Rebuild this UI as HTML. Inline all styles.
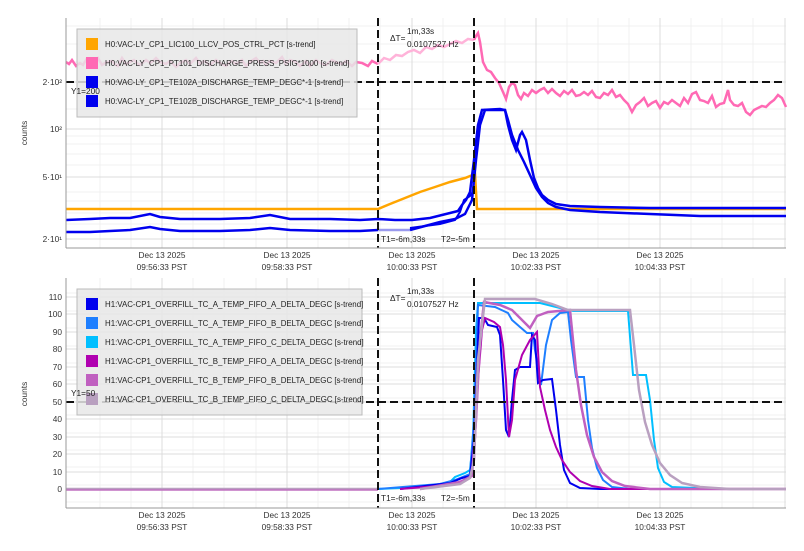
<!DOCTYPE html>
<html><head><meta charset="utf-8"><style>
html,body{margin:0;padding:0;background:#fff;}
svg{display:block;font-family:"Liberation Sans","DejaVu Sans",sans-serif;}
</style></head><body>
<svg width="804" height="551" viewBox="0 0 804 551" xmlns="http://www.w3.org/2000/svg">
<rect width="804" height="551" fill="#fff"/>
<!-- TOP PLOT -->
<g>
<g stroke="#f0f0f0" stroke-width="1">
<line x1="100" y1="18" x2="100" y2="248"/><line x1="131" y1="18" x2="131" y2="248"/><line x1="193" y1="18" x2="193" y2="248"/><line x1="224" y1="18" x2="224" y2="248"/><line x1="256" y1="18" x2="256" y2="248"/><line x1="318" y1="18" x2="318" y2="248"/><line x1="349" y1="18" x2="349" y2="248"/><line x1="380" y1="18" x2="380" y2="248"/><line x1="443" y1="18" x2="443" y2="248"/><line x1="505" y1="18" x2="505" y2="248"/><line x1="567" y1="18" x2="567" y2="248"/><line x1="598" y1="18" x2="598" y2="248"/><line x1="629" y1="18" x2="629" y2="248"/><line x1="691" y1="18" x2="691" y2="248"/><line x1="722" y1="18" x2="722" y2="248"/><line x1="753" y1="18" x2="753" y2="248"/>
<line x1="66" y1="224" x2="786" y2="224"/><line x1="66" y1="213" x2="786" y2="213"/><line x1="66" y1="201" x2="786" y2="201"/><line x1="66" y1="192" x2="786" y2="192"/><line x1="66" y1="165" x2="786" y2="165"/><line x1="66" y1="154" x2="786" y2="154"/><line x1="66" y1="144" x2="786" y2="144"/><line x1="66" y1="136" x2="786" y2="136"/><line x1="66" y1="109" x2="786" y2="109"/><line x1="66" y1="62" x2="786" y2="62"/><line x1="66" y1="44" x2="786" y2="44"/><line x1="66" y1="26" x2="786" y2="26"/>
</g>
<g stroke="#dcdcdc" stroke-width="1">
<line x1="162" y1="18" x2="162" y2="248"/><line x1="287" y1="18" x2="287" y2="248"/><line x1="412" y1="18" x2="412" y2="248"/><line x1="536" y1="18" x2="536" y2="248"/><line x1="660" y1="18" x2="660" y2="248"/><line x1="785" y1="18" x2="785" y2="248"/>
<line x1="66" y1="82" x2="786" y2="82"/><line x1="66" y1="129" x2="786" y2="129"/><line x1="66" y1="177" x2="786" y2="177"/><line x1="66" y1="239" x2="786" y2="239"/>
</g>
<polyline fill="none" stroke="#ff69b4" stroke-width="2.5" points="66,62 69,64 72,60 76,66 80,63 83,65 86,60 90,67 94,62 98,58 102,65 105,63 108,62 112,61 115,64 118,66 122,58 126,64 130,62 134,60 137,63 140,65 146,60 150,63 153,61 156,58 160,62 166,64 170,61 173,64 176,67 180,63 186,60 190,64 196,58 200,64 204,61 207,63 210,65 216,60 220,63 226,66 229,63 232,61 236,64 242,60 246,66 250,62 256,58 260,63 263,61 266,65 270,61 276,63 282,57 286,64 290,60 296,62 300,66 306,61 310,66 316,60 320,63 326,65 332,60 336,62 342,64 346,61 352,66 356,62 362,63 368,66 372,61 378,64"/>
<polyline fill="none" stroke="#ffb3d9" stroke-width="2.5" points="378,64 384,58 390,60 396,55 402,56 408,52 414,50 420,53 426,47 432,49 438,45 444,47 450,44 456,41 462,43 468,39 474,40"/>
<polyline fill="none" stroke="#ff69b4" stroke-width="2.5" points="474,40 476,36 478,33 480,42 483,62 487,70 491,72 495,78 499,83 503,92 506,99 509,87 512,83 515,85 518,95 521,99 524,93 528,96 532,90 536,93 540,90 544,88 548,93 552,89 556,93 560,96 564,91 568,94 572,90 576,96 580,95 584,92 588,95 592,91 596,97 600,98 604,93 608,95 612,90 616,97 620,95 624,100 628,104 632,112 636,105 640,102 644,98 648,106 652,103 656,101 660,108 664,102 668,104 672,100 676,103 680,106 684,98 688,103 692,94 696,92 700,100 704,101 708,103 712,96 716,107 720,104 724,103 728,90 730,100 734,105 738,106 742,103 746,112 750,115 754,110 758,108 762,106 766,107 770,103 774,100 778,95 782,98 786,107"/>
<polyline fill="none" stroke="#ffa500" stroke-width="2.5" points="66,209 378,209 390,204 405,198 420,192 435,187 450,182 465,178 475,174 477,209 786,209"/>
<polyline fill="none" stroke="#0000ee" stroke-width="2.5" points="66,220 90,219 110,218 130,218 150,214 160,217 180,219 220,219 250,218 270,215 290,219 330,219 360,220 378,219 395,220 412,220 430,218 450,213 458,211 462,205 466,200 470,192 474,160 478,125 482,110 500,109 505,110 508,125 512,140 516,150 520,135 522,132 526,140 530,160 534,178 538,188 542,195 548,200 556,204 570,206 600,207 650,208 700,208 786,208"/>
<polyline fill="none" stroke="#0000ee" stroke-width="2.5" points="66,232 90,232 110,231 130,230 150,227 160,229 180,231 220,231 250,230 270,228 290,230 330,231 360,231 378,230"/>
<polyline fill="none" stroke="#9999ee" stroke-width="2.5" points="378,230 410,230"/>
<polyline fill="none" stroke="#0000ee" stroke-width="2.5" points="410,230 425,226 440,222 455,219 465,214 472,200 476,160 480,125 485,110 505,110 508,120 512,135 518,150 524,162 530,175 536,188 542,197 548,203 556,207 570,210 600,212 650,214 700,216 786,216"/>
<polyline fill="none" stroke="#0000ee" stroke-width="2" points="410,228 440,224 455,220 460,212 464,200 470,196 474,190"/>
<g stroke="#111" stroke-width="2" stroke-dasharray="8,4">
<line x1="378" y1="18" x2="378" y2="248"/><line x1="474" y1="18" x2="474" y2="248"/><line x1="66" y1="82" x2="786" y2="82"/>
</g>
<rect x="77" y="29" width="280" height="88" fill="#e8e8e8" fill-opacity="0.85" stroke="#bbb"/>
<rect x="86" y="38" width="12" height="12" fill="#ffa500"/>
<rect x="86" y="57" width="12" height="12" fill="#ff69b4"/>
<rect x="86" y="76" width="12" height="12" fill="#0000ee"/>
<rect x="86" y="95" width="12" height="12" fill="#0000ee"/>
<g font-size="7.9" fill="#222">
<text x="105" y="47">H0:VAC-LY_CP1_LIC100_LLCV_POS_CTRL_PCT [s-trend]</text>
<text x="105" y="66">H0:VAC-LY_CP1_PT101_DISCHARGE_PRESS_PSIG*1000 [s-trend]</text>
<text x="105" y="85">H0:VAC-LY_CP1_TE102A_DISCHARGE_TEMP_DEGC*-1 [s-trend]</text>
<text x="105" y="104">H0:VAC-LY_CP1_TE102B_DISCHARGE_TEMP_DEGC*-1 [s-trend]</text>
</g>
<g font-size="8.3" fill="#222">
<text x="71" y="94">Y1=200</text>
<text x="390" y="41">ΔT=</text>
<text x="407" y="34">1m,33s</text>
<text x="407" y="47">0.0107527 Hz</text>
<text x="381" y="242">T1=-6m,33s</text>
<text x="441" y="242">T2=-5m</text>
</g>
<line x1="66" y1="18" x2="66" y2="248" stroke="#999"/>
<line x1="66" y1="248" x2="786" y2="248" stroke="#999"/>
<g font-size="8.3" fill="#333" text-anchor="end">
<text x="62" y="85">2·10²</text><text x="62" y="132">10²</text><text x="62" y="180">5·10¹</text><text x="62" y="242">2·10¹</text>
</g>
<text transform="translate(27,133) rotate(-90)" font-size="8.3" fill="#333" text-anchor="middle">counts</text>
<g font-size="8.3" fill="#333" text-anchor="middle">
<text x="162" y="258">Dec 13 2025</text><text x="162" y="270">09:56:33 PST</text>
<text x="287" y="258">Dec 13 2025</text><text x="287" y="270">09:58:33 PST</text>
<text x="412" y="258">Dec 13 2025</text><text x="412" y="270">10:00:33 PST</text>
<text x="536" y="258">Dec 13 2025</text><text x="536" y="270">10:02:33 PST</text>
<text x="660" y="258">Dec 13 2025</text><text x="660" y="270">10:04:33 PST</text>
</g>
</g>

<!-- BOTTOM PLOT -->
<g>
<g stroke="#f0f0f0" stroke-width="1">
<line x1="100" y1="278" x2="100" y2="508"/><line x1="131" y1="278" x2="131" y2="508"/><line x1="193" y1="278" x2="193" y2="508"/><line x1="224" y1="278" x2="224" y2="508"/><line x1="256" y1="278" x2="256" y2="508"/><line x1="318" y1="278" x2="318" y2="508"/><line x1="349" y1="278" x2="349" y2="508"/><line x1="380" y1="278" x2="380" y2="508"/><line x1="443" y1="278" x2="443" y2="508"/><line x1="505" y1="278" x2="505" y2="508"/><line x1="567" y1="278" x2="567" y2="508"/><line x1="598" y1="278" x2="598" y2="508"/><line x1="629" y1="278" x2="629" y2="508"/><line x1="691" y1="278" x2="691" y2="508"/><line x1="722" y1="278" x2="722" y2="508"/><line x1="753" y1="278" x2="753" y2="508"/>
<line x1="66" y1="502" x2="786" y2="502"/><line x1="66" y1="485" x2="786" y2="485"/><line x1="66" y1="467" x2="786" y2="467"/><line x1="66" y1="450" x2="786" y2="450"/><line x1="66" y1="433" x2="786" y2="433"/><line x1="66" y1="415" x2="786" y2="415"/><line x1="66" y1="398" x2="786" y2="398"/><line x1="66" y1="380" x2="786" y2="380"/><line x1="66" y1="363" x2="786" y2="363"/><line x1="66" y1="346" x2="786" y2="346"/><line x1="66" y1="328" x2="786" y2="328"/><line x1="66" y1="311" x2="786" y2="311"/><line x1="66" y1="293" x2="786" y2="293"/>
</g>
<g stroke="#dcdcdc" stroke-width="1">
<line x1="162" y1="278" x2="162" y2="508"/><line x1="287" y1="278" x2="287" y2="508"/><line x1="412" y1="278" x2="412" y2="508"/><line x1="536" y1="278" x2="536" y2="508"/><line x1="660" y1="278" x2="660" y2="508"/><line x1="785" y1="278" x2="785" y2="508"/>
<line x1="66" y1="489" x2="786" y2="489"/><line x1="66" y1="472" x2="786" y2="472"/><line x1="66" y1="454" x2="786" y2="454"/><line x1="66" y1="437" x2="786" y2="437"/><line x1="66" y1="419" x2="786" y2="419"/><line x1="66" y1="402" x2="786" y2="402"/><line x1="66" y1="384" x2="786" y2="384"/><line x1="66" y1="367" x2="786" y2="367"/><line x1="66" y1="349" x2="786" y2="349"/><line x1="66" y1="332" x2="786" y2="332"/><line x1="66" y1="314" x2="786" y2="314"/><line x1="66" y1="297" x2="786" y2="297"/>
</g>
<polyline fill="none" stroke="#b9a0c0" stroke-width="2.5" points="66,489 378,489"/>
<polyline fill="none" stroke="#c070c0" stroke-width="1.5" points="66,490 378,490"/>
<polyline fill="none" stroke="#00bfff" stroke-width="2" points="378,489 420,487 440,484 450,482 455,477 465,473 470,470 473,440 476,330 478,303 540,303 560,308 573,311 628,311 633,375 646,375 650,400 654,440 658,468 664,482 672,487 720,489 786,489"/>
<polyline fill="none" stroke="#1e7fff" stroke-width="2" points="378,489 440,484 455,480 470,474 474,420 478,305 495,307 508,313 512,320 520,327 527,333 533,333 535,350 541,385 546,345 552,320 560,313 568,312 571,340 576,377 584,377 588,420 592,448 597,468 603,480 612,487 630,489 786,489"/>
<polyline fill="none" stroke="#0000ee" stroke-width="2" points="400,489 450,483 462,478 470,476 474,440 479,318 484,318 488,325 497,327 500,335 503,380 506,430 509,437 512,400 515,370 520,367 530,367 532,335 535,340 538,383 543,380 552,379 556,410 560,445 564,470 570,483 580,488 600,489 786,489"/>
<polyline fill="none" stroke="#b000b0" stroke-width="2" points="400,489 450,485 462,481 470,478 474,460 478,380 482,330 485,318 494,322 500,327 503,345 506,380 509,437 512,420 515,380 522,355 530,340 537,332 540,387 545,410 550,430 556,447 562,460 570,472 580,481 592,486 610,489 786,489"/>
<polyline fill="none" stroke="#c060c0" stroke-width="2.5" points="420,489 460,482 472,476 476,420 480,340 484,302 500,305 512,310 520,318 530,328 537,316 548,312 570,310 572,330 576,370 581,405 587,435 594,457 602,472 612,481 625,486 650,489 786,489"/>
<polyline fill="none" stroke="#b9a0c0" stroke-width="2.5" points="420,489 460,484 470,478 474,460 478,360 485,299 535,299 552,304 568,310 630,310 634,345 639,390 645,422 652,445 660,463 670,475 682,483 700,487 730,489 786,489"/>
<g stroke="#111" stroke-width="2" stroke-dasharray="8,4">
<line x1="378" y1="278" x2="378" y2="508"/><line x1="474" y1="278" x2="474" y2="508"/><line x1="66" y1="402" x2="786" y2="402"/>
</g>
<rect x="77" y="289" width="285" height="126" fill="#e8e8e8" fill-opacity="0.85" stroke="#bbb"/>
<rect x="86" y="298" width="12" height="12" fill="#0000ee"/>
<rect x="86" y="317" width="12" height="12" fill="#1e7fff"/>
<rect x="86" y="336" width="12" height="12" fill="#00bfff"/>
<rect x="86" y="355" width="12" height="12" fill="#b000b0"/>
<rect x="86" y="374" width="12" height="12" fill="#c060c0"/>
<rect x="86" y="393" width="12" height="12" fill="#b9a0c0"/>
<g font-size="7.9" fill="#222">
<text x="105" y="307">H1:VAC-CP1_OVERFILL_TC_A_TEMP_FIFO_A_DELTA_DEGC [s-trend]</text>
<text x="105" y="326">H1:VAC-CP1_OVERFILL_TC_A_TEMP_FIFO_B_DELTA_DEGC [s-trend]</text>
<text x="105" y="345">H1:VAC-CP1_OVERFILL_TC_A_TEMP_FIFO_C_DELTA_DEGC [s-trend]</text>
<text x="105" y="364">H1:VAC-CP1_OVERFILL_TC_B_TEMP_FIFO_A_DELTA_DEGC [s-trend]</text>
<text x="105" y="383">H1:VAC-CP1_OVERFILL_TC_B_TEMP_FIFO_B_DELTA_DEGC [s-trend]</text>
<text x="105" y="402">H1:VAC-CP1_OVERFILL_TC_B_TEMP_FIFO_C_DELTA_DEGC [s-trend]</text>
</g>
<g font-size="8.3" fill="#222">
<text x="71" y="396">Y1=50</text>
<text x="390" y="301">ΔT=</text>
<text x="407" y="294">1m,33s</text>
<text x="407" y="307">0.0107527 Hz</text>
<text x="381" y="501">T1=-6m,33s</text>
<text x="441" y="501">T2=-5m</text>
</g>
<line x1="66" y1="278" x2="66" y2="508" stroke="#999"/>
<line x1="66" y1="508" x2="786" y2="508" stroke="#999"/>
<g font-size="8.3" fill="#333" text-anchor="end">
<text x="62" y="300">110</text><text x="62" y="317">100</text><text x="62" y="335">90</text><text x="62" y="352">80</text><text x="62" y="370">70</text><text x="62" y="387">60</text><text x="62" y="405">50</text><text x="62" y="422">40</text><text x="62" y="440">30</text><text x="62" y="457">20</text><text x="62" y="475">10</text><text x="62" y="492">0</text>
</g>
<text transform="translate(27,394) rotate(-90)" font-size="8.3" fill="#333" text-anchor="middle">counts</text>
<g font-size="8.3" fill="#333" text-anchor="middle">
<text x="162" y="518">Dec 13 2025</text><text x="162" y="530">09:56:33 PST</text>
<text x="287" y="518">Dec 13 2025</text><text x="287" y="530">09:58:33 PST</text>
<text x="412" y="518">Dec 13 2025</text><text x="412" y="530">10:00:33 PST</text>
<text x="536" y="518">Dec 13 2025</text><text x="536" y="530">10:02:33 PST</text>
<text x="660" y="518">Dec 13 2025</text><text x="660" y="530">10:04:33 PST</text>
</g>
</g>
</svg>
</body></html>
